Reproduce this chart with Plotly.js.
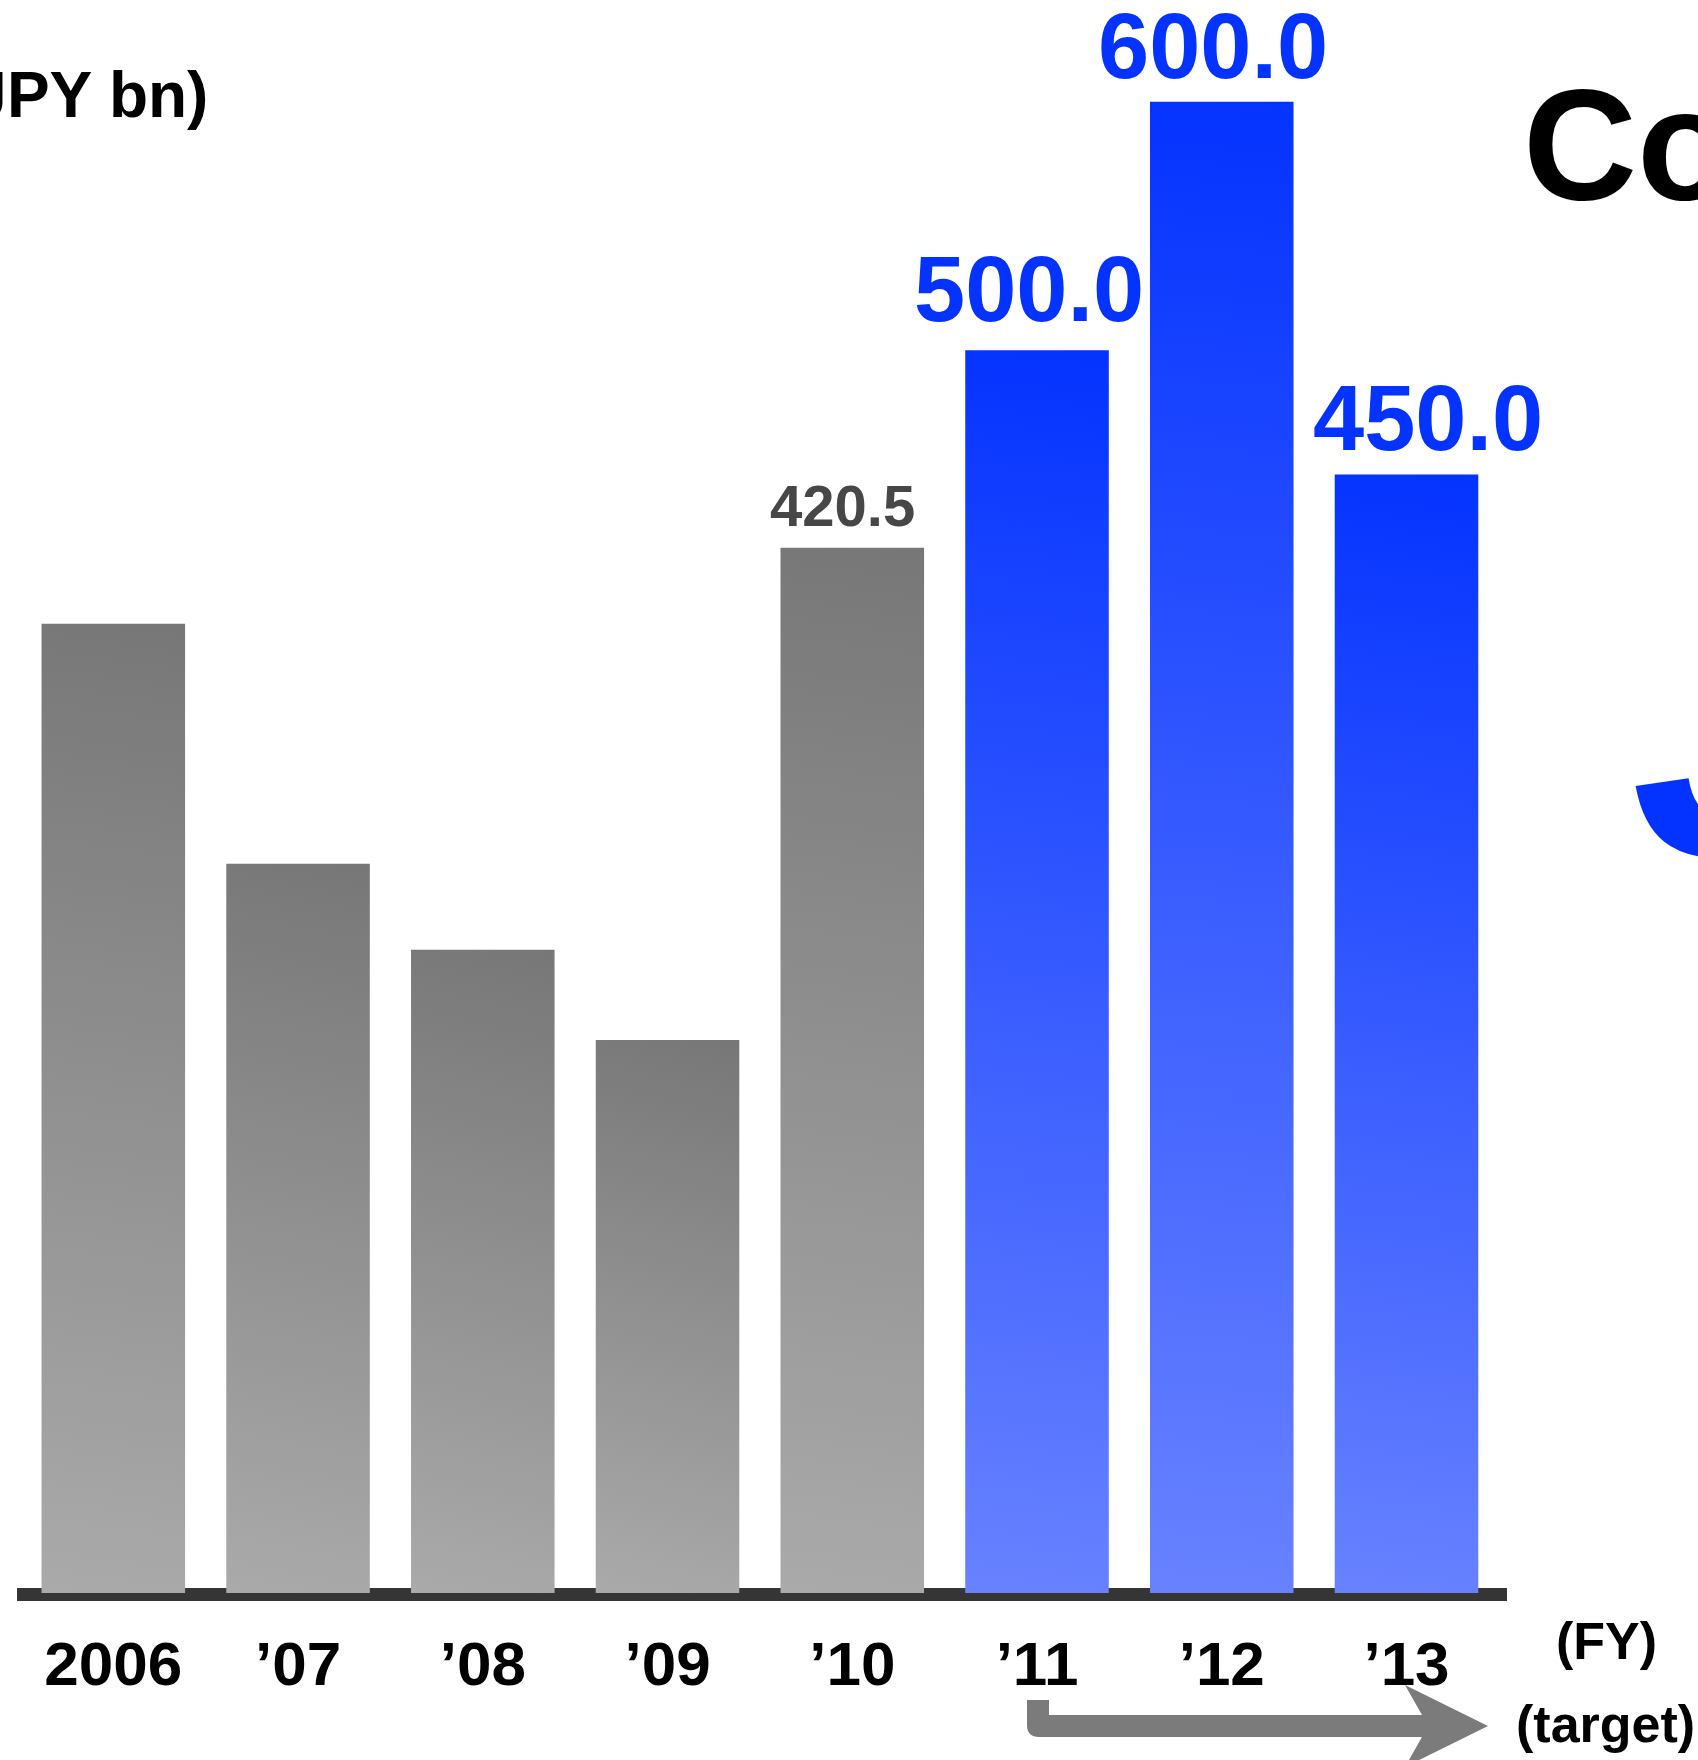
<!DOCTYPE html>
<html>
<head>
<meta charset="utf-8">
<script src="https://cdn.plot.ly/plotly-3.0.1.min.js"></script>
<style>
  html, body { margin: 0; padding: 0; background: #ffffff; }
  #chart { width: 1698px; height: 1760px; }
</style>
</head>
<body>
<div id="chart"></div>
<script>
// ---------------- DATA ----------------
const categories   = ["2006", "’07", "’08", "’09", "’10", "’11", "’12", "’13"];
const actualYears  = ["2006", "’07", "’08", "’09", "’10"];
const actualValues = [390.0, 293.4, 258.8, 222.5, 420.5];
const targetYears  = ["’11", "’12", "’13"];
const targetValues = [500.0, 600.0, 450.0];
const labeledActual = ["’10"];           // actual bars that carry a value label
const unitLabel   = "(JPY bn)";
const fyLabel     = "(FY)";
const targetLabel = "(target)";
const titleFragment = "Co";
const glyphFragment = "J";

// ---------------- STYLE / GEOMETRY ----------------
const W = 1698, H = 1760;
const M = { l: 17, r: 191, t: 0, b: 159 };
const PW = W - M.l - M.r, PH = H - M.t - M.b;
const px2x = px => (px - M.l) / PW;
const px2y = py => (H - M.b - py) / PH;
const FONT = "Liberation Sans, Arial, Helvetica, sans-serif";
const BLUE = "#0433ff";

const actualTrace = {
  type: "bar", name: "actual", x: actualYears, y: actualValues,
  marker: { color: "#8c8c8c", line: { width: 0 } },
  hoverinfo: "skip"
};
const targetTrace = {
  type: "bar", name: "target", x: targetYears, y: targetValues,
  marker: { color: "#2e55ff", line: { width: 0 } },
  hoverinfo: "skip"
};

const annotations = [];
labeledActual.forEach(cat => {
  const v = actualValues[actualYears.indexOf(cat)];
  annotations.push({
    x: cat, y: v, xref: "x", yref: "y", text: v.toFixed(1), showarrow: false,
    xanchor: "center", yanchor: "middle", xshift: -10, yshift: 42,
    font: { family: FONT, size: 58, color: "#474747", weight: "bold" }
  });
});
const tgtXShift = [-8, -9, 21];
const tgtYShift = [61, 56, 57];
targetYears.forEach((cat, i) => {
  annotations.push({
    x: cat, y: targetValues[i], xref: "x", yref: "y", text: targetValues[i].toFixed(1),
    showarrow: false, xanchor: "center", yanchor: "middle",
    xshift: tgtXShift[i], yshift: tgtYShift[i],
    font: { family: FONT, size: 92, color: BLUE, weight: "bold" }
  });
});
annotations.push(
  { x: px2x(210), y: px2y(95), xref: "paper", yref: "paper", text: unitLabel, showarrow: false,
    xanchor: "right", yanchor: "middle", font: { family: FONT, size: 64, color: "#000", weight: "bold" } },
  { x: px2x(1521), y: px2y(144), xref: "paper", yref: "paper", text: titleFragment, showarrow: false,
    xanchor: "left", yanchor: "middle", font: { family: FONT, size: 158, color: "#000", weight: "bold" } },
  { x: px2x(1628), y: px2y(726), xref: "paper", yref: "paper", text: glyphFragment, showarrow: false,
    xanchor: "left", yanchor: "middle", font: { family: FONT, size: 370, color: BLUE, weight: "bold" } },
  { x: px2x(1607), y: px2y(1641), xref: "paper", yref: "paper", text: fyLabel, showarrow: false,
    xanchor: "center", yanchor: "middle", font: { family: FONT, size: 52, color: "#000", weight: "bold" } },
  { x: px2x(1605), y: px2y(1724), xref: "paper", yref: "paper", text: targetLabel, showarrow: false,
    xanchor: "center", yanchor: "middle", font: { family: FONT, size: 52, color: "#000", weight: "bold" } }
);

const arrowPts = [
  ["M", 1027, 1700], ["L", 1049, 1700], ["L", 1049, 1715], ["L", 1422, 1715], ["L", 1405, 1685],
  ["L", 1488, 1726], ["L", 1405, 1767], ["L", 1422, 1737], ["L", 1039, 1737]
];
let arrowPath = arrowPts.map(p => p[0] + px2x(p[1]).toFixed(5) + "," + px2y(p[2]).toFixed(5)).join(" ");
arrowPath += " Q" + px2x(1027).toFixed(5) + "," + px2y(1737).toFixed(5) + " " + px2x(1027).toFixed(5) + "," + px2y(1725).toFixed(5) + " Z";

const shapes = [
  { type: "line", xref: "paper", yref: "paper", x0: 0, x1: 1, y0: px2y(1594.5), y1: px2y(1594.5),
    line: { color: "#353535", width: 13 }, layer: "below" },
  { type: "path", xref: "paper", yref: "paper", path: arrowPath,
    fillcolor: "#7b7b7b", line: { width: 0 }, layer: "above" }
];

const k = 2.4855; // px per unit
const layout = {
  width: W, height: H,
  margin: M,
  paper_bgcolor: "#ffffff", plot_bgcolor: "rgba(0,0,0,0)",
  showlegend: false,
  barmode: "overlay",
  bargap: 0.223,
  xaxis: {
    type: "category", categoryorder: "array", categoryarray: categories,
    range: [-0.5213, 7.544], showgrid: false, zeroline: false, showline: false,
    ticks: "", ticklabelstandoff: 21,
    tickfont: { family: FONT, size: 62, color: "#000", weight: "bold" }
  },
  yaxis: {
    range: [-8 / k, 1593 / k], showgrid: false, zeroline: false, showline: false,
    showticklabels: false, ticks: ""
  },
  annotations: annotations,
  shapes: shapes
};

const GRAD = { actual: ["#777777", "#aaaaaa"], target: ["#0433ff", "#6882ff"] };

Plotly.newPlot("chart", [actualTrace, targetTrace], layout, { staticPlot: true, displayModeBar: false })
  .then(gd => {
    const ns = "http://www.w3.org/2000/svg";
    const svg = gd.querySelector(".main-svg");
    let defs = svg.querySelector("defs");
    if (!defs) { defs = document.createElementNS(ns, "defs"); svg.insertBefore(defs, svg.firstChild); }
    const traces = gd.querySelectorAll(".barlayer .trace");
    let n = 0;
    traces.forEach((t, i) => {
      const cols = i === 0 ? GRAD.actual : GRAD.target;
      t.querySelectorAll(".point path").forEach(p => {
        const b = p.getBBox();
        const id = "barGrad" + (n++);
        const g = document.createElementNS(ns, "linearGradient");
        g.setAttribute("id", id);
        g.setAttribute("gradientUnits", "userSpaceOnUse");
        g.setAttribute("x1", b.x + b.width); g.setAttribute("y1", b.y);
        g.setAttribute("x2", b.x); g.setAttribute("y2", b.y + b.height);
        [[0, cols[0]], [1, cols[1]]].forEach(([o, c]) => {
          const s = document.createElementNS(ns, "stop");
          s.setAttribute("offset", o); s.setAttribute("stop-color", c);
          g.appendChild(s);
        });
        defs.appendChild(g);
        p.style.fill = "url(#" + id + ")";
      });
    });
  });
</script>
</body>
</html>
